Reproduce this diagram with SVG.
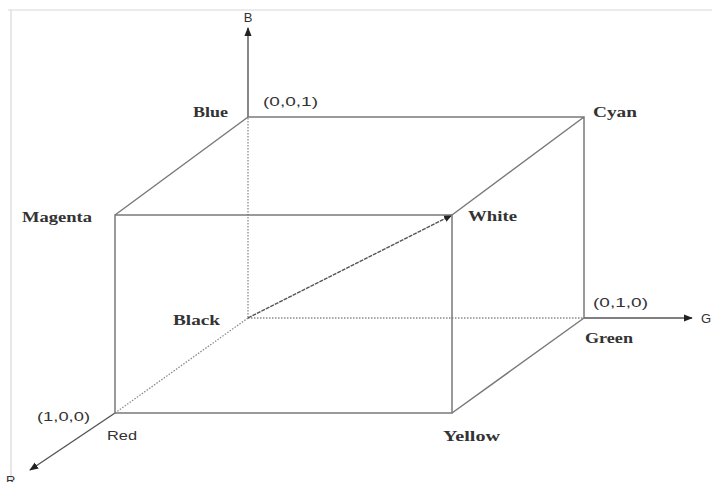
<svg xmlns="http://www.w3.org/2000/svg" width="712" height="482" viewBox="0 0 712 482">
<defs>
<style>
.frame{fill:none;stroke:#d8d8d8;stroke-width:1.2}
.edge{fill:none;stroke:#7a7a7a;stroke-width:1.5}
.dot{fill:none;stroke:#8a8a8a;stroke-width:1.3;stroke-dasharray:1.5 1.5}
.axis{fill:none;stroke:#555;stroke-width:1.4}
.lbl{font-family:"Liberation Serif",serif;font-size:15px;font-weight:bold;fill:#333}
.sans{font-family:"Liberation Sans",sans-serif;font-size:13px;fill:#333}
</style>
<marker id="arr" viewBox="0 0 10 10" refX="9" refY="5" markerWidth="9" markerHeight="9" markerUnits="userSpaceOnUse" orient="auto">
<path d="M0,1 L10,5 L0,9 Z" fill="#222"/>
</marker>
</defs>
<rect width="712" height="482" fill="#fff"/>
<path class="frame" d="M8,10 H712 M11,10 V482"/>
<g id="connectors">
<path class="dot" d="M248,118 V318 M248,318 H584"/>
<path class="dot" d="M248,318 L115,413"/>
<path class="axis" d="M248,117 V28" marker-end="url(#arr)"/>
<path class="axis" d="M584,318 H692" marker-end="url(#arr)"/>
<path class="axis" d="M115,413 L30,470" marker-end="url(#arr)"/>
<path class="axis" d="M248,318 L452,215" stroke-dasharray="4 1" marker-end="url(#arr)"/>
<path class="edge" d="M248,117 H584 V318 M248,117 L115,215 M584,117 L452,215 M584,318 L452,413"/>
<path class="edge" d="M115,215 H452 V413 H115 Z"/>
</g>
<g id="axis-B"><text class="sans" x="248" y="22" text-anchor="middle">B</text></g>
<g id="axis-G"><text class="sans" x="701" y="323">G</text></g>
<g id="axis-R"><text class="sans" x="6" y="485">R</text></g>
<g id="blue"><text class="lbl" x="193" y="117" textLength="35" lengthAdjust="spacingAndGlyphs">Blue</text>
<text class="sans" x="263" y="106" textLength="55" lengthAdjust="spacingAndGlyphs">(0,0,1)</text></g>
<g id="cyan"><text class="lbl" x="593" y="117" textLength="44" lengthAdjust="spacingAndGlyphs">Cyan</text></g>
<g id="magenta"><text class="lbl" x="22" y="222" textLength="70" lengthAdjust="spacingAndGlyphs">Magenta</text></g>
<g id="white"><text class="lbl" x="468" y="221" textLength="49" lengthAdjust="spacingAndGlyphs">White</text></g>
<g id="black"><text class="lbl" x="173" y="325" textLength="47" lengthAdjust="spacingAndGlyphs">Black</text></g>
<g id="green"><text class="sans" x="593" y="307" textLength="55" lengthAdjust="spacingAndGlyphs">(0,1,0)</text>
<text class="lbl" x="585" y="343" textLength="48" lengthAdjust="spacingAndGlyphs">Green</text></g>
<g id="red"><text class="sans" x="37" y="421" textLength="53" lengthAdjust="spacingAndGlyphs">(1,0,0)</text>
<text class="sans" x="107" y="440" textLength="30" lengthAdjust="spacingAndGlyphs">Red</text></g>
<g id="yellow"><text class="lbl" x="443" y="441" textLength="57" lengthAdjust="spacingAndGlyphs">Yellow</text></g>
</svg>
